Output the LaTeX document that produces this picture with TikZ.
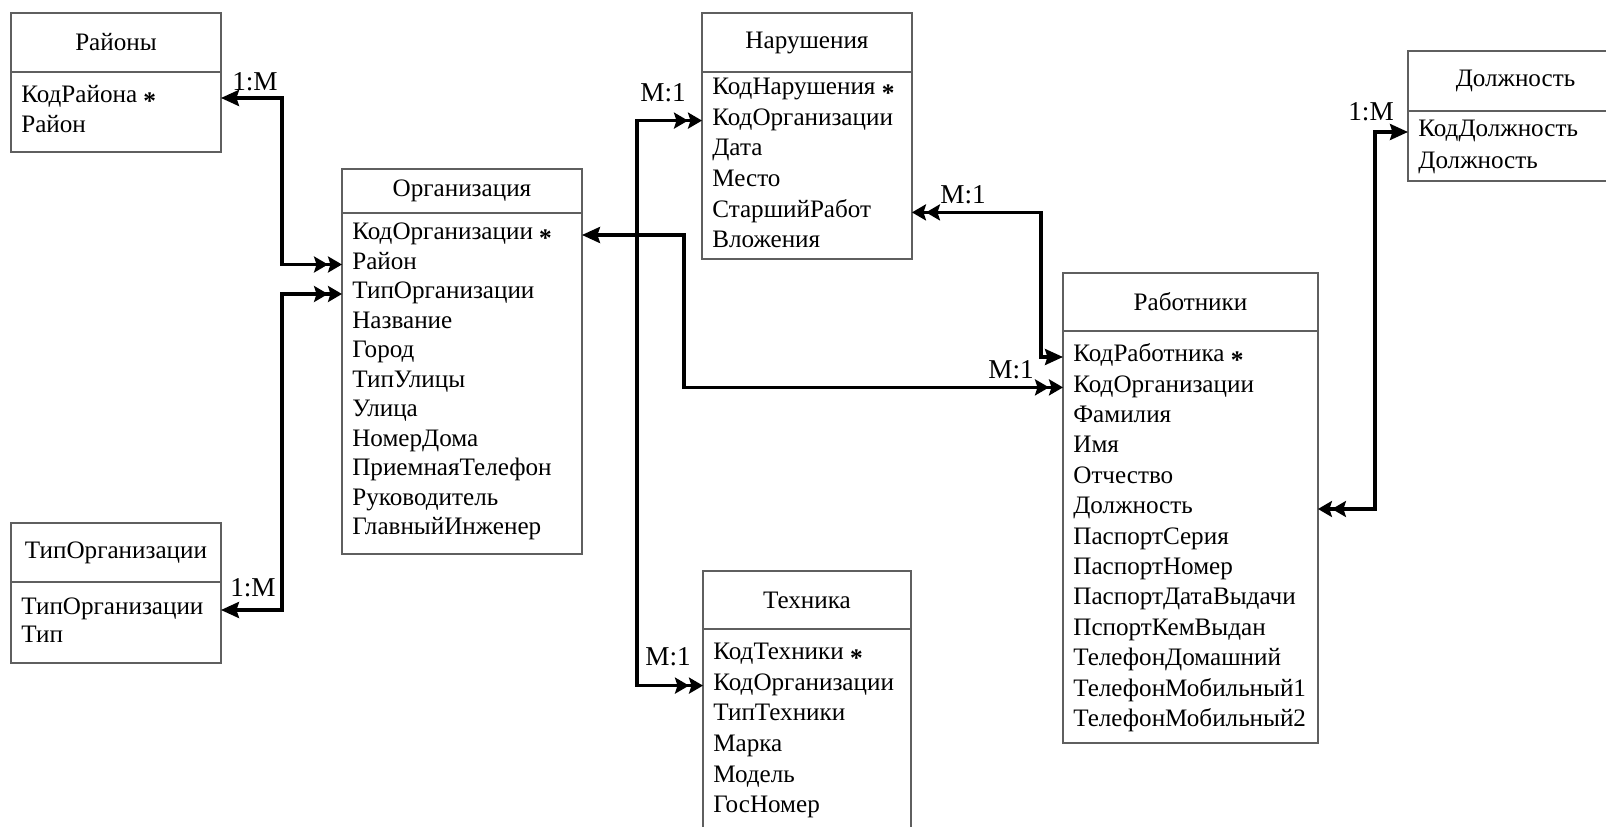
\documentclass[tikz,border=0pt]{standalone}
\usepackage{fontspec}
\setmainfont{Liberation Serif}
\usepackage{tikz}
\usetikzlibrary{arrows.meta, positioning}
\usepackage{xcolor}
\definecolor{boxline}{RGB}{95,95,95}
\newcommand{\keyfield}{\ \smash{\raisebox{-0.6ex}{\textbf{\Large *}}}}
\tikzset{%
	table head/.style={
		draw=boxline,
		line width=0.8pt,
		fill=white,
		anchor=north west,
		inner sep=0pt,
		outer sep=0pt,
		font=\fontsize{14.3}{17}\selectfont
	},
	field/.style={
		anchor=west,
		inner sep=0pt,
		text height=1.6ex,
		text depth=0.45ex,
		font=\fontsize{14.3}{17}\selectfont
	},
	card/.style={inner sep=0pt, font=\fontsize{15.5}{18}\selectfont},
	relation/.style={line width=1.9pt},
	one/.tip={Stealth[length=0.36cm, width=0.32cm, inset=0.05cm]},
	many/.tip={Stealth[length=0.28cm, width=0.32cm, inset=0.05cm] Stealth[length=0.28cm, width=0.32cm, inset=0.05cm]},
}

\begin{document}
\begin{tikzpicture}[x=0.02cm, y=-0.02cm]
	\clip (0,0) rectangle (1606,827);
	
	% Tables
	\node[table head, minimum width=4.2cm, minimum height=1.18cm] (ray) at (11,13) {Районы};
	\node[table head, minimum width=4.2cm, minimum height=1.6cm] (ray-b) at (ray.south west) {};
	\foreach \f [count=\i] in {КодРайона\keyfield, Район}
		\node[field] (ray-\i) at (21,{98+30*(\i-1)}) {\f};
	
	\node[table head, minimum width=4.2cm, minimum height=1.18cm] (tip) at (11,523) {ТипОрганизации};
	\node[table head, minimum width=4.2cm, minimum height=1.62cm] (tip-b) at (tip.south west) {};
	\foreach \f [count=\i] in {ТипОрганизации, Тип}
		\node[field] (tip-\i) at (21,{610+28*(\i-1)}) {\f};
	
	\node[table head, minimum width=4.8cm, minimum height=0.88cm] (org) at (342,169) {Организация};
	\node[table head, minimum width=4.8cm, minimum height=6.82cm] (org-b) at (org.south west) {};
	\foreach \f [count=\i] in {КодОрганизации\keyfield, Район, ТипОрганизации, Название, Город,
		ТипУлицы, Улица, НомерДома, ПриемнаяТелефон, Руководитель, ГлавныйИнженер}
		\node[field] (org-\i) at (352,{235+29.5*(\i-1)}) {\f};
	
	\node[table head, minimum width=4.2cm, minimum height=1.18cm] (nar) at (702,13) {Нарушения};
	\node[table head, minimum width=4.2cm, minimum height=3.74cm] (nar-b) at (nar.south west) {};
	\foreach \f [count=\i] in {КодНарушения\keyfield, КодОрганизации, Дата, Место, СтаршийРабот, Вложения}
		\node[field] (nar-\i) at (712,{90+30.6*(\i-1)}) {\f};
	
	\node[table head, minimum width=4.16cm, minimum height=1.16cm] (tex) at (703,571) {Техника};
	\node[table head, minimum width=4.16cm, minimum height=4.6cm] (tex-b) at (tex.south west) {};
	\foreach \f [count=\i] in {КодТехники\keyfield, КодОрганизации, ТипТехники, Марка, Модель, ГосНомер}
		\node[field] (tex-\i) at (713,{655+30.6*(\i-1)}) {\f};
	
	\node[table head, minimum width=5.1cm, minimum height=1.16cm] (rab) at (1063,273) {Работники};
	\node[table head, minimum width=5.1cm, minimum height=8.24cm] (rab-b) at (rab.south west) {};
	\foreach \f [count=\i] in {КодРаботника\keyfield, КодОрганизации, Фамилия, Имя, Отчество, Должность,
		ПаспортСерия, ПаспортНомер, ПаспортДатаВыдачи, ПспортКемВыдан, ТелефонДомашний,
		ТелефонМобильный1, ТелефонМобильный2}
		\node[field] (rab-\i) at (1073,{357+30.4*(\i-1)}) {\f};
	
	\node[table head, minimum width=4.3cm, minimum height=1.2cm, text width=4.14cm, align=center] (dol) at (1408,51) {Должность};
	\node[table head, minimum width=4.3cm, minimum height=1.4cm] (dol-b) at (dol.south west) {};
	\foreach \f [count=\i] in {КодДолжность, Должность}
		\node[field] (dol-\i) at (1418,{132+32*(\i-1)}) {\f};
	
	% Relations
	\draw[relation, one-many] (ray-b.east |- ray-1) -- ++(61,0) |- (org-b.west |- org-2);
	\draw[relation, one-many] (tip-b.east |- tip-1) -- ++(61,0) |- (org-b.west |- org-3);
	\draw[relation, one-many] (org-b.east |- org-1) -- ++(102,0) |- (rab-b.west |- rab-2);
	\draw[relation, many-many] (nar-b.west |- nar-2) -- ++(-65,0) |- (tex-b.west |- tex-2);
	\draw[relation, many-one] (nar-b.east |- nar-5) -- ++(129,0) |- (rab-b.west |- rab-1);
	\draw[relation, one-many] (dol-b.west |- dol-1) -- ++(-33,0) |- (rab-b.east |- rab-6);
	
	% Cardinalities
	\node[card] (c-ray) at (255,82) {1:M};
	\node[card] (c-tip) at (253,588) {1:M};
	\node[card] (c-nar) at (663,93) {M:1};
	\node[card] (c-tex) at (668,657) {M:1};
	\node[card] (c-star) at (963,195) {M:1};
	\node[card] (c-rab) at (1011,370) {M:1};
	\node[card] (c-dol) at (1371,112) {1:M};
\end{tikzpicture}
\end{document}
